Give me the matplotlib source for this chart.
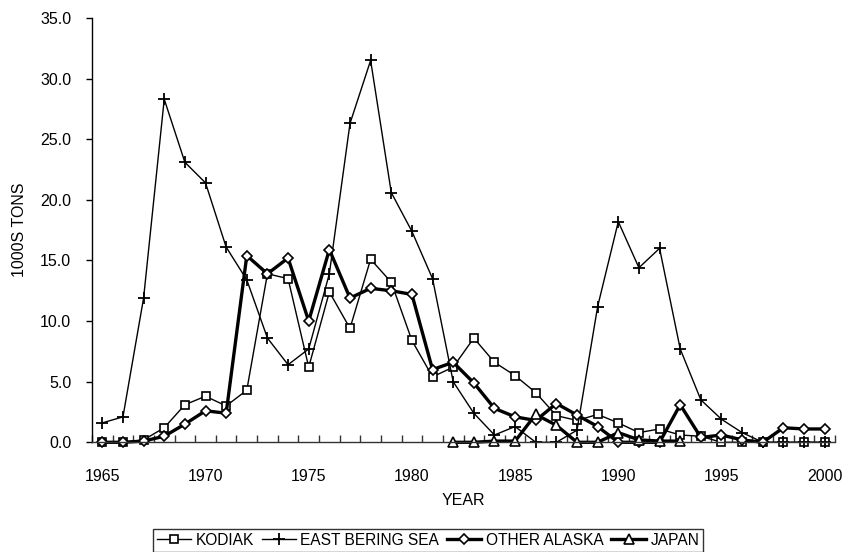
import numpy as np
import matplotlib
matplotlib.use("Agg")
import matplotlib.pyplot as plt
from matplotlib.ticker import FixedLocator, FormatStrFormatter

plt.rcParams['font.family'] = ['Liberation Sans', 'DejaVu Sans']

years = list(range(1965, 2001))

kodiak = [0, 0, 0.2, 1.2, 3.1, 3.8, 3.0, 4.3, 13.9, 13.5,
          6.2, 12.4, 9.4, 15.1, 13.2, 8.4, 5.4, 6.2, 8.6, 6.6,
          5.5, 4.1, 2.2, 1.8, 2.3, 1.6, 0.8, 1.1, 0.6, 0.5,
          0, 0, 0, 0, 0, 0]

east_bering_sea = [1.6, 2.1, 11.9, 28.3, 23.1, 21.4, 16.1, 13.4, 8.6, 6.4,
                   7.7, 13.9, 26.3, 31.5, 20.6, 17.4, 13.5, 5.0, 2.4, 0.6,
                   1.3, 0, 0, 1.0, 11.2, 18.2, 14.4, 16.0, 7.7, 3.5,
                   1.9, 0.8, 0, 0, 0, 0]

other_alaska = [0, 0, 0.1, 0.5, 1.5, 2.6, 2.4, 15.4, 13.9, 15.2,
                10.0, 15.9, 11.9, 12.7, 12.5, 12.2, 6.0, 6.6, 4.9, 2.8,
                2.1, 1.8, 3.2, 2.25, 1.3, 0, 0, 0, 3.1, 0.4,
                0.6, 0.2, 0, 1.2, 1.1, 1.1]

japan_years = list(range(1982, 1994))
japan = [0, 0, 0.1, 0.1, 2.3, 1.4, 0, 0, 0.8, 0.2, 0.1, 0.1]

x_labels = [1965, 1970, 1975, 1980, 1985, 1990, 1995, 2000]
y_ticks = [0, 5, 10, 15, 20, 25, 30, 35]

fig = plt.figure(figsize=(8.47, 5.52), dpi=100)
ax = fig.add_axes([92 / 847, 1 - 442.3 / 552, (835 - 92) / 847, (442.3 - 18) / 552])

common = dict(color='black', clip_on=False)
ax.plot(years, kodiak, lw=1.0, marker='s', ms=6,
        mfc='white', mec='black', mew=1.2, label='KODIAK', **common)
ax.plot(years, east_bering_sea, lw=1.0, marker='+', ms=9,
        mew=1.3, label='EAST BERING SEA', **common)
ax.plot(years, other_alaska, lw=2.4, marker='D', ms=5,
        mfc='white', mec='black', mew=1.2, label='OTHER ALASKA', **common)
ax.plot(japan_years, japan, lw=2.4, marker='^', ms=7,
        mfc='white', mec='black', mew=1.2, label='JAPAN', **common)

ax.set_xlim(1964.5, 2000.5)
ax.set_ylim(0, 35)

ax.xaxis.set_major_locator(FixedLocator(x_labels))
ax.xaxis.set_minor_locator(FixedLocator(np.arange(1964.5, 2001, 1.0)))
ax.tick_params(axis='x', which='major', length=0, pad=19, labelsize=11.5)
ax.tick_params(axis='x', which='minor', direction='in', length=5, width=1.0,
               color='#333333')

ax.yaxis.set_major_locator(FixedLocator(y_ticks))
ax.yaxis.set_major_formatter(FormatStrFormatter('%.1f'))
ax.tick_params(axis='y', which='major', direction='out', length=4, width=1.0,
               pad=11, labelsize=11.5)

for side in ('top', 'right'):
    ax.spines[side].set_visible(False)
for side in ('left', 'bottom'):
    ax.spines[side].set_linewidth(1.0)
ax.spines['bottom'].set_color('#333333')

ax.set_xlabel('YEAR', fontsize=11.5)
ax.xaxis.set_label_coords(0.5, -0.12)
ax.set_ylabel('1000S TONS', fontsize=11.5)
ax.yaxis.set_label_coords(-0.087, 0.50)

leg = fig.legend(loc='upper left', bbox_to_anchor=(152.7 / 847, 1 - 529 / 552),
                 ncol=4, frameon=True, fancybox=False, edgecolor='black',
                 fontsize=11.2, handlelength=2.2, handletextpad=0.3,
                 columnspacing=0.5, borderpad=0.25, borderaxespad=0)
leg.get_frame().set_linewidth(1.0)

fig.savefig('out.png', dpi=100)
